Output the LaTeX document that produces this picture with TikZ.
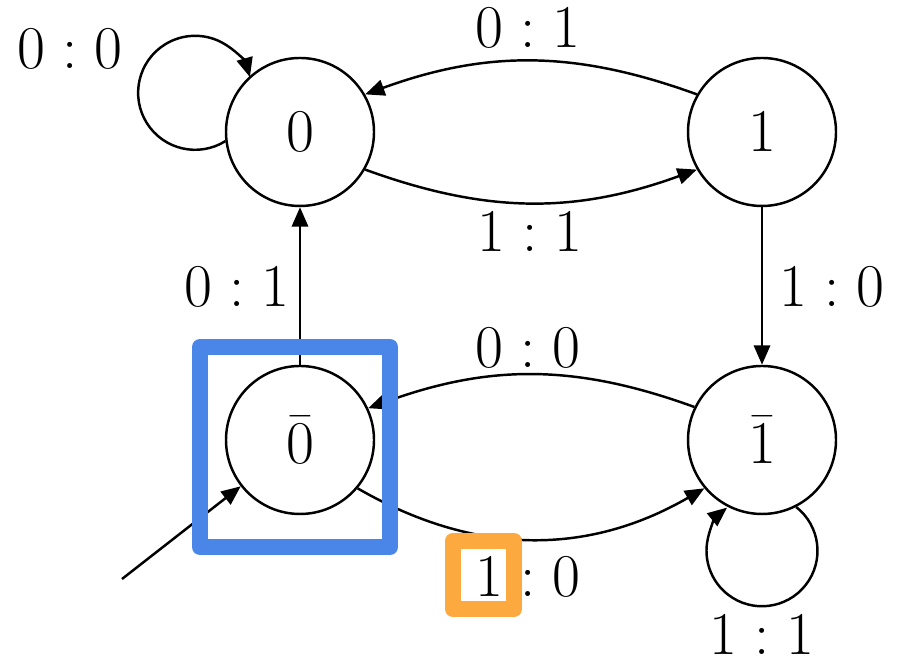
\documentclass[tikz,border=0pt]{standalone}
\usepackage{amsmath,amssymb}
\usepackage{tikz}
\usetikzlibrary{arrows.meta}

\definecolor{markblue}{RGB}{74,134,232}
\definecolor{markorange}{RGB}{252,169,64}

\begin{document}
\begin{tikzpicture}[x=1cm,y=1cm,>={Triangle[length=5.5pt,width=4.6pt]},
    font=\fontsize{17.5}{20}\selectfont,line width=0.7pt,
    state/.style={circle,draw,minimum size=1.48cm,inner sep=0pt},
    hilite/.style={line width=4.55pt,line join=round}]

\useasboundingbox (0,0) rectangle (9.01,6.62);

% states
\node[state] (s0) at (3.00,5.30) {$0$};

\node[state] (s1) at (7.62,5.30) {$1$};

\node[state] (s0bar) at (3.00,2.22) {$\bar{0}$};

\node[state] (s1bar) at (7.62,2.22) {$\bar{1}$};

\coordinate (init) at (1.22,0.83);

% transitions between 0 and 1
\draw[->] (s1.150) to[out=160,in=20] (s0.30);

\draw[->] (s0.-30) to[out=-20,in=200] (s1.210);

\node (l01top) at (5.28,6.34) {$0:1$};

\node (l11mid) at (5.30,4.30) {$1:1$};

% transitions between the barred states
\draw[->] (s1bar.154) to[out=160,in=20] (s0bar.25);

\draw[->] (s0bar.-40) to[out=-30,in=210] (s1bar.220);

\node (l00mid) at (5.28,3.14) {$0:0$};

\node (l10bot) at (5.28,0.85) {$1:0$};

% vertical transitions
\draw[->] (s0bar) -- (s0);

\draw[->] (s1) -- (s1bar);

\node (l01left) at (2.37,3.75) {$0:1$};

\node (l10right) at (8.32,3.75) {$1:0$};

% loops
\draw[->] (s0.187) arc[start angle=-58,end angle=-344,radius=0.57];

\node (l00loop) at (0.70,6.13) {$0:0$};

\draw[->] (s1bar.-63) arc[start angle=52,end angle=-231,radius=0.555];

\node (l11loop) at (7.62,0.27) {$1:1$};

% initial state
\draw[->] (init) -- (s0bar.218);

% highlights
\draw[hilite,markblue] (2.00,1.15) rectangle (3.90,3.15);

\draw[hilite,markorange] (4.53,0.53) rectangle (5.14,1.21);

\end{tikzpicture}
\end{document}
